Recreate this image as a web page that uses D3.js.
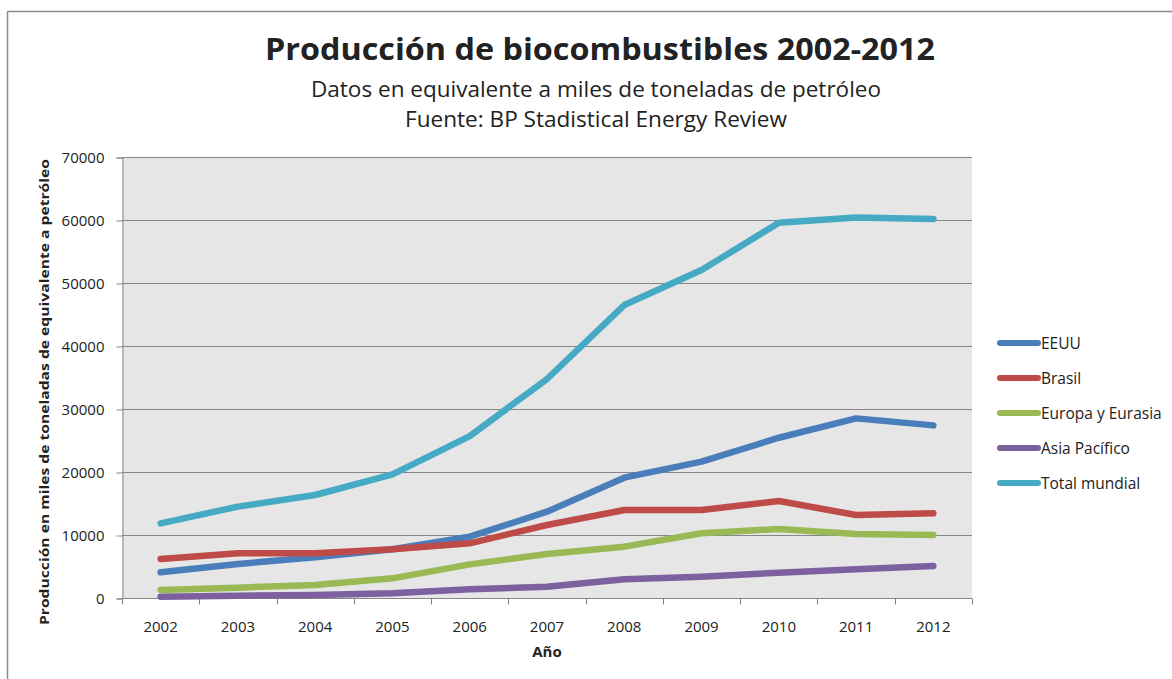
<!DOCTYPE html>
<html>
<head>
<meta charset="utf-8">
<script src="https://cdn.jsdelivr.net/npm/d3@7"></script>
<style>
  html, body { margin: 0; padding: 0; background: #fff; }
  svg { display: block; }
  text { font-family: "Open Sans", "Noto Sans", sans-serif; fill: #222; }
</style>
</head>
<body>
<svg id="chart" width="1172" height="679"></svg>
<script>
// Biofuel production, thousand tonnes of oil equivalent
const years = ["2002","2003","2004","2005","2006","2007","2008","2009","2010","2011","2012"];
const seriesNames = ["EEUU","Brasil","Europa y Eurasia","Asia Pacífico","Total mundial"];
const eeuu    = [4080, 5400, 6460, 7730, 9730, 13700, 19100, 21640, 25440, 28510, 27400];
const brasil  = [6190, 7090, 7090, 7730, 8680, 11590, 13970, 13970, 15400, 13170, 13440];
const europa  = [1270, 1640, 2060, 3120, 5340, 6980, 8150, 10270, 10950, 10160, 10000];
const asia    = [210, 370, 480, 740, 1380, 1800, 2960, 3390, 4020, 4550, 5080];
const total   = [11850, 14500, 16350, 19630, 25700, 34760, 46500, 52050, 59560, 60400, 60150];
const yTicks  = [0, 10000, 20000, 30000, 40000, 50000, 60000, 70000];
const colors  = ["#4a7ebb", "#be4b48", "#98b954", "#7d60a0", "#46aac5"];

const seriesValues = [eeuu, brasil, europa, asia, total];

const svg = d3.select("#chart");

// outer frame
svg.append("line").attr("x1", 7.5).attr("x2", 7.5).attr("y1", 11.5).attr("y2", 679)
  .attr("stroke", "#8a8a8a").attr("stroke-width", 1.5);
svg.append("line").attr("x1", 7.5).attr("x2", 1172).attr("y1", 11.5).attr("y2", 11.5)
  .attr("stroke", "#8a8a8a").attr("stroke-width", 1.5);

const plot = { left: 122, right: 972, top: 157, bottom: 598 };

const x = d3.scaleBand().domain(years).range([plot.left, plot.right]).padding(0);
const y = d3.scaleLinear().domain([0, 70000]).range([plot.bottom, plot.top]);

// plot background
svg.append("rect")
  .attr("x", plot.left).attr("y", plot.top)
  .attr("width", plot.right - plot.left).attr("height", plot.bottom - plot.top)
  .attr("fill", "#e6e6e6");

// horizontal gridlines
svg.append("g")
  .selectAll("line")
  .data(yTicks)
  .join("line")
  .attr("x1", plot.left).attr("x2", plot.right)
  .attr("y1", d => Math.round(y(d)) + 0.5).attr("y2", d => Math.round(y(d)) + 0.5)
  .attr("stroke", "#868686").attr("stroke-width", 1);

// y axis
const yAxis = svg.append("g")
  .attr("transform", `translate(${plot.left + 0.5},0.5)`)
  .call(d3.axisLeft(y).tickValues(yTicks).tickSize(6).tickPadding(12).tickFormat(d3.format("d")));
yAxis.select(".domain").attr("stroke", "#868686");
yAxis.selectAll(".tick line").attr("stroke", "#868686");
yAxis.selectAll(".tick text")
  .style("font-family", "'Open Sans', sans-serif").style("font-size", "15px").attr("fill", "#222");

// x axis: ticks between categories
const xAxisG = svg.append("g").attr("transform", `translate(0,${plot.bottom + 0.5})`);
xAxisG.append("line").attr("x1", plot.left).attr("x2", plot.right)
  .attr("stroke", "#868686");
const boundaries = years.map(d => x(d)).concat([x(years[years.length - 1]) + x.bandwidth()]);
xAxisG.selectAll("line.tk")
  .data(boundaries)
  .join("line").attr("class", "tk")
  .attr("x1", d => Math.round(d) + 0.5).attr("x2", d => Math.round(d) + 0.5)
  .attr("y1", 0).attr("y2", 6)
  .attr("stroke", "#868686");
xAxisG.selectAll("text")
  .data(years)
  .join("text")
  .attr("x", d => x(d) + x.bandwidth() / 2)
  .attr("y", 33)
  .attr("text-anchor", "middle")
  .style("font-size", "15px")
  .text(d => d);

// axis titles
svg.append("text")
  .attr("x", 547).attr("y", 657)
  .attr("text-anchor", "middle")
  .style("font-size", "15px").style("font-weight", "bold")
  .text("Año");

svg.append("text")
  .attr("transform", "translate(49,392) rotate(-90)")
  .attr("text-anchor", "middle")
  .style("font-size", "12.5px").style("font-weight", "bold")
  .attr("textLength", 466).attr("lengthAdjust", "spacingAndGlyphs")
  .text("Producción en miles de toneladas de equivalente a petróleo");

// titles
svg.append("text")
  .attr("x", 600).attr("y", 60)
  .attr("text-anchor", "middle")
  .style("font-size", "30px").style("font-weight", "bold").attr("fill", "#111")
  .attr("textLength", 670).attr("lengthAdjust", "spacingAndGlyphs")
  .text("Producción de biocombustibles 2002-2012");
svg.append("text")
  .attr("x", 596).attr("y", 97)
  .attr("text-anchor", "middle")
  .style("font-size", "21px")
  .attr("textLength", 570).attr("lengthAdjust", "spacingAndGlyphs")
  .text("Datos en equivalente a miles de toneladas de petróleo");
svg.append("text")
  .attr("x", 596).attr("y", 127)
  .attr("text-anchor", "middle")
  .style("font-size", "21px")
  .attr("textLength", 382).attr("lengthAdjust", "spacingAndGlyphs")
  .text("Fuente: BP Stadistical Energy Review");

// series lines
const line = d3.line()
  .x((d, i) => x(years[i]) + x.bandwidth() / 2)
  .y(d => y(d));

svg.append("g")
  .selectAll("path")
  .data(seriesValues)
  .join("path")
  .attr("d", d => line(d))
  .attr("fill", "none")
  .attr("stroke", (d, i) => colors[i])
  .attr("stroke-width", 6.5)
  .attr("stroke-linecap", "round")
  .attr("stroke-linejoin", "round");

// legend
const legend = svg.append("g");
const rows = legend.selectAll("g")
  .data(seriesNames)
  .join("g")
  .attr("transform", (d, i) => `translate(0,${343 + i * 35})`);
rows.append("line")
  .attr("x1", 1000).attr("x2", 1038).attr("y1", 0).attr("y2", 0)
  .attr("stroke", (d, i) => colors[i])
  .attr("stroke-width", 6)
  .attr("stroke-linecap", "round");
rows.append("text")
  .attr("x", 1041).attr("y", 6)
  .style("font-size", "15.5px")
  .text(d => d);
</script>
</body>
</html>
